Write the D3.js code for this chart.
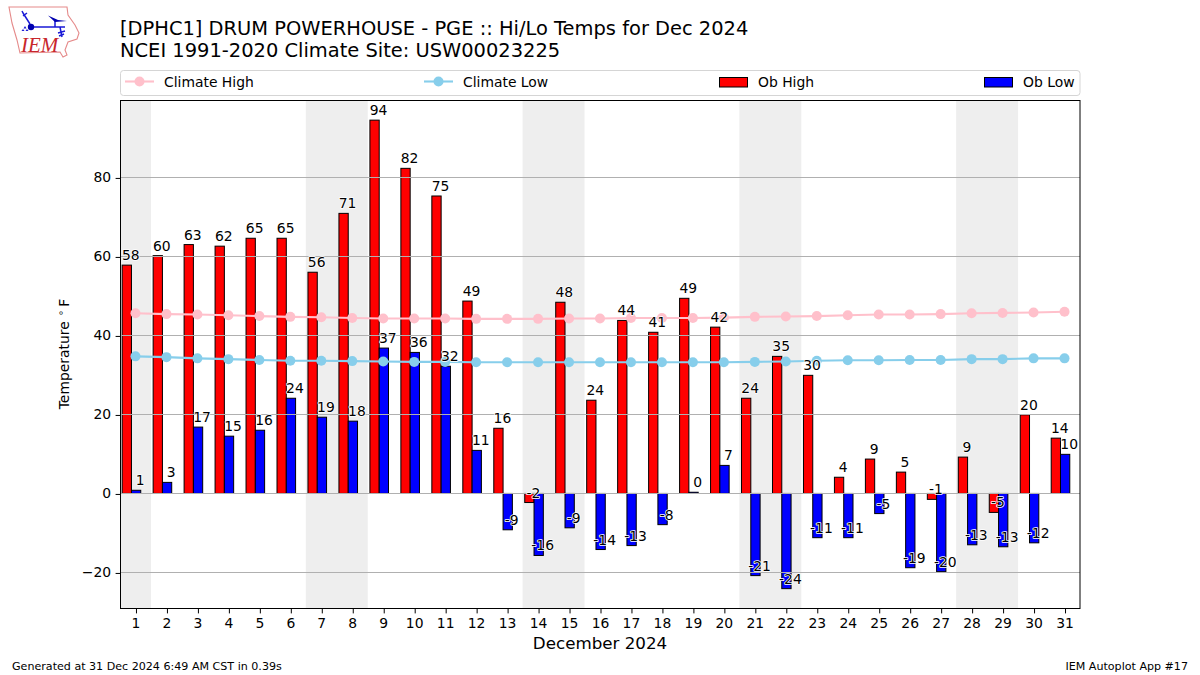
<!DOCTYPE html>
<html><head><meta charset="utf-8">
<script src="https://cdn.jsdelivr.net/npm/d3@7"></script>
<style>html,body{margin:0;padding:0;background:#fff}svg{display:block}text{font-family:"DejaVu Sans";fill:#000}</style>
</head><body><svg id="c" width="1200" height="675"></svg>
<script>
const days = d3.range(1, 32);
const obHigh = [57.8,60.2,63.0,62.6,64.6,64.6,56.0,70.9,94.5,82.3,75.3,48.7,16.5,-2.3,48.4,23.6,43.8,40.8,49.4,42.1,24.1,34.7,29.9,4.1,8.7,5.4,-1.5,9.2,-4.8,19.9,14.0];
const obLow = [0.8,2.8,16.8,14.5,16.0,24.1,19.3,18.3,36.8,35.7,32.2,10.9,-9.2,-15.7,-8.7,-14.2,-13.2,-7.9,0.3,7.1,-20.8,-24.1,-11.2,-11.2,-5.1,-18.8,-19.8,-13.0,-13.5,-12.5,9.9];
const highLabels = [58,60,63,62,65,65,56,71,94,82,75,49,16,-2,48,24,44,41,49,42,24,35,30,4,9,5,-1,9,-5,20,14];
const lowLabels = [1,3,17,15,16,24,19,18,37,36,32,11,-9,-16,-9,-14,-13,-8,0,7,-21,-24,-11,-11,-5,-19,-20,-13,-13,-12,10];
const climateHigh = [45.6,45.4,45.3,45.1,44.9,44.7,44.6,44.4,44.3,44.3,44.3,44.2,44.2,44.2,44.3,44.3,44.4,44.4,44.4,44.5,44.7,44.8,44.9,45.1,45.3,45.3,45.4,45.6,45.7,45.8,46.0];
const climateLow = [34.7,34.5,34.2,34.0,33.8,33.6,33.6,33.5,33.4,33.3,33.3,33.2,33.2,33.2,33.2,33.2,33.2,33.2,33.2,33.2,33.3,33.4,33.6,33.7,33.7,33.8,33.8,34.0,34.0,34.2,34.2];
const weekends = [[0.5,1.5],[6.5,8.5],[13.5,15.5],[20.5,22.5],[27.5,29.5]];
const yTicks = [-20,0,20,40,60,80];

const svg = d3.select("#c");
const L=120.5,R=1080,T=100.5,B=608;
const x = d3.scaleLinear().domain([0.5,31.5]).range([L-0.5,R-0.0]);
const y = d3.scaleLinear().domain([-29,99.6]).range([608,100]);

// weekend bands
svg.append("g").selectAll("rect").data(weekends).join("rect")
  .attr("x",d=>x(d[0])).attr("width",d=>x(d[1])-x(d[0]))
  .attr("y",T).attr("height",B-T).attr("fill","#eeeeee");

// bars
const barW = 0.3;
function bars(vals, off, col){
  svg.append("g").selectAll("rect").data(vals).join("rect")
    .attr("x",(d,i)=>x(days[i]+off))
    .attr("width",x(1+barW)-x(1))
    .attr("y",d=>Math.min(y(d),y(0)))
    .attr("height",d=>Math.abs(y(d)-y(0)))
    .attr("fill",col).attr("stroke","#000").attr("stroke-width",1);
}
bars(obHigh,-0.43,"#ff0000");
bars(obLow,-0.13,"#0000ff");

// gridlines
svg.append("g").selectAll("line").data(yTicks).join("line")
  .attr("x1",L).attr("x2",R).attr("y1",d=>Math.round(y(d))+0.5).attr("y2",d=>Math.round(y(d))+0.5)
  .attr("stroke","#b0b0b0").attr("stroke-width",1);

// climate lines
function climate(vals,col){
  const line=d3.line().x((d,i)=>x(days[i])).y(d=>y(d));
  svg.append("path").attr("d",line(vals)).attr("fill","none").attr("stroke",col).attr("stroke-width",2.1);
  svg.append("g").selectAll("circle").data(vals).join("circle")
    .attr("cx",(d,i)=>x(days[i])).attr("cy",d=>y(d)).attr("r",5).attr("fill",col);
}
climate(climateHigh,"#ffc0cb");
climate(climateLow,"#87ceeb");

// labels with white halo
function labels(vals,labs,off){
  svg.append("g").selectAll("text").data(vals).join("text")
    .attr("x",(d,i)=>x(days[i]+off)).attr("y",d=>y(d)-5)
    .attr("text-anchor","middle").attr("font-size",13.9)
    .attr("paint-order","stroke").attr("stroke","#fff").attr("stroke-width",1.6).attr("stroke-linejoin","round")
    .text((d,i)=>labs[i]);
}
labels(obHigh,highLabels,-0.15);
labels(obLow,lowLabels,0.15);

// axes
const gx=svg.append("g").attr("transform",`translate(0,${B+0.5})`)
  .call(d3.axisBottom(x).tickValues(days).tickFormat(d3.format("d")).tickSize(4.9).tickPadding(4.5).tickSizeOuter(0));
const gy=svg.append("g").attr("transform",`translate(${L},0)`)
  .call(d3.axisLeft(y).tickValues(yTicks).tickFormat(d=>String(d).replace("-","\u2212")).tickSize(4.9).tickPadding(4.5).tickSizeOuter(0));
[gx,gy].forEach(g=>{
  g.select(".domain").remove();
  g.selectAll("text").attr("font-size",13.9).attr("font-family","DejaVu Sans").attr("fill","#000");
  g.selectAll("line").attr("stroke","#000").attr("stroke-width",1);
});
gy.selectAll(".tick line").attr("transform","translate(0,0.5)");
gx.selectAll(".tick line").attr("transform","translate(0.5,0)");
svg.append("rect").attr("x",L).attr("y",T).attr("width",R-L).attr("height",B-T+0.5)
  .attr("fill","none").attr("stroke","#000").attr("stroke-width",1);

// titles
svg.append("text").attr("x",120).attr("y",35).attr("font-size",19.45).text("[DPHC1] DRUM POWERHOUSE - PGE :: Hi/Lo Temps for Dec 2024");
svg.append("text").attr("x",120).attr("y",57).attr("font-size",19.45).text("NCEI 1991-2020 Climate Site: USW00023225");
svg.append("text").attr("x",600).attr("y",649).attr("text-anchor","middle").attr("font-size",16.7).text("December 2024");
const yl=svg.append("text").attr("transform","translate(69,354) rotate(-90)").attr("text-anchor","middle").attr("font-size",13.9);
yl.append("tspan").text("Temperature ");
yl.append("tspan").attr("font-size",9.8).attr("dy",-5).attr("dx",1).text("\u2218");
yl.append("tspan").attr("dy",5).attr("dx",3).text("F");
svg.append("text").attr("x",12).attr("y",670).attr("font-size",11.1).text("Generated at 31 Dec 2024 6:49 AM CST in 0.39s");
svg.append("text").attr("x",1188).attr("y",670).attr("text-anchor","end").attr("font-size",11.1).text("IEM Autoplot App #17");

// legend
svg.append("rect").attr("x",120.5).attr("y",70.5).attr("width",959.5).attr("height",25).attr("rx",3)
  .attr("fill","#fff").attr("stroke","#d5d5d5").attr("stroke-width",1);
function legLine(x0,col,name){
  svg.append("line").attr("x1",x0).attr("x2",x0+29).attr("y1",81.5).attr("y2",81.5).attr("stroke",col).attr("stroke-width",2.1);
  svg.append("circle").attr("cx",x0+14.5).attr("cy",81.5).attr("r",5).attr("fill",col);
  svg.append("text").attr("x",x0+39).attr("y",86.5).attr("font-size",13.9).text(name);
}
function legBar(x0,col,name){
  svg.append("rect").attr("x",x0+0.5).attr("y",77.5).attr("width",28).attr("height",9.5).attr("fill",col).attr("stroke","#000");
  svg.append("text").attr("x",x0+39).attr("y",86.5).attr("font-size",13.9).text(name);
}
legLine(125,"#ffc0cb","Climate High");
legLine(424,"#87ceeb","Climate Low");
legBar(719,"#ff0000","Ob High");
legBar(984,"#0000ff","Ob Low");

// IEM logo
const logo=svg.append("g");
logo.append("path").attr("d","M9 7 L67 7 L68 15 L75 25 L79 33 L77 39 L68 42 L65 50 L67 55 L63 57 L60 52 L20 53 L17 40 L12 23 Z")
  .attr("fill","#fff").attr("stroke","#e58a8a").attr("stroke-width",1.1);
const blue="#1a1ad6";
logo.append("path").attr("d","M31 27 H65 M55 21 V27 M60 27 L62 37 M58 33 L65 31 M59 36 L64 34 M30 24 L23 13 M23 13 L22 11 M23 16 L27 13").attr("fill","none").attr("stroke",blue).attr("stroke-width",1.5);
logo.append("circle").attr("cx",31).attr("cy",27).attr("r",3.2).attr("fill","#0000b0");
logo.append("path").attr("d","M48 15.5 L58 20 L67 21 L55 22 Z").attr("fill","#0000b0");
logo.append("path").attr("d","M25 26 l1.5 2.5 l-3 0 Z M23 29 l1.5 2 l-3 0 Z M27 29 l1.5 2 l-3 0 Z").attr("fill",blue);
logo.append("text").attr("x",21).attr("y",52).style("font-family","Liberation Serif").style("fill","#c8262c").attr("font-style","italic").attr("font-size",21).text("IEM");
</script></body></html>
